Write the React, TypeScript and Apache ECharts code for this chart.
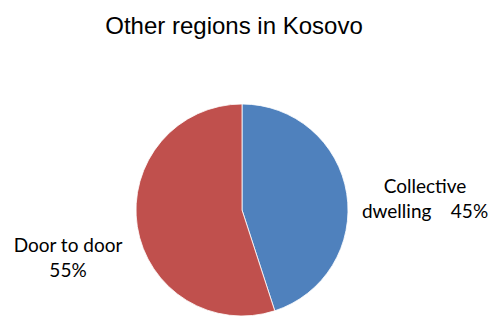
import React, { useEffect, useRef } from "react";
import * as echarts from "echarts";

const title = "Other regions in Kosovo";
const categories = ["Collective dwelling", "Door to door"];
const values = [45, 55];
const labelLines = [
  ["Collective", "dwelling    45%"],
  ["Door to door", "55%"],
];
const colors = ["#4F81BD", "#C0504D"];

export default function App() {
  const ref = useRef<HTMLDivElement>(null);
  useEffect(() => {
    if (!ref.current) return;
    const chart = echarts.init(ref.current, undefined, { renderer: "svg" });
    const labelPos = [
      { x: 425, y: 198 },
      { x: 68, y: 257 },
    ];
    chart.setOption({
      animation: false,
      backgroundColor: "#ffffff",
      title: {
        text: title,
        left: 229,
        top: 8,
        textAlign: "center",
        textStyle: {
          fontFamily: "Liberation Sans, Arial, sans-serif",
          fontSize: 24,
          fontWeight: "normal",
          color: "#000000",
        },
      },
      series: [
        {
          type: "pie",
          center: [242, 210],
          radius: 106,
          startAngle: 90,
          clockwise: true,
          silent: true,
          itemStyle: { borderColor: "#ffffff", borderWidth: 0.8 },
          label: {
            show: true,
            position: "outside",
            alignTo: "none",
            overflow: "none",
            fontFamily: "Lato, 'Open Sans', sans-serif",
            fontSize: 19,
            lineHeight: 25,
            color: "#000000",
            align: "center",
            formatter: (p: any) => labelLines[p.dataIndex].join("\n"),
          },
          labelLine: { show: false },
          labelLayout: (p: any) => ({
            x: labelPos[p.dataIndex].x,
            y: labelPos[p.dataIndex].y,
            align: "center",
            verticalAlign: "middle",
          }),
          data: categories.map((c, i) => ({
            name: c,
            value: values[i],
            itemStyle: { color: colors[i] },
          })),
        },
      ],
    });
    return () => chart.dispose();
  }, []);
  return (
    <div
      ref={ref}
      style={{ position: "fixed", left: 0, top: 0, width: 495, height: 316 }}
    />
  );
}
